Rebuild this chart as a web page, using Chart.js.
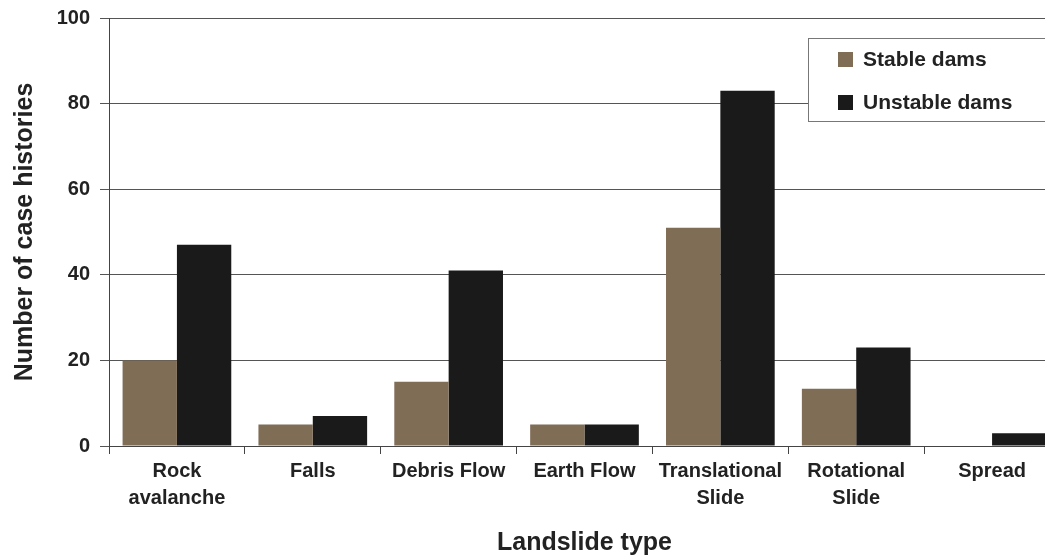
<!DOCTYPE html>
<html>
<head>
<meta charset="utf-8">
<script src="https://cdn.jsdelivr.net/npm/chart.js@4"></script>
<style>
  html, body { margin: 0; padding: 0; background: #fff; overflow: hidden; width: 1045px; height: 556px; }
  #wrap { position: relative; width: 1060px; height: 556px; }
</style>
</head>
<body>
<div id="wrap"><canvas id="c" width="1060" height="556"></canvas></div>
<script>
const categories = [["Rock", "avalanche"], "Falls", "Debris Flow", "Earth Flow", ["Translational", "Slide"], ["Rotational", "Slide"], "Spread"];
const stableDams = [20, 5, 15, 5, 51, 13.4, 0];
const unstableDams = [47, 7, 41, 5, 83, 23, 3];
const yTicks = [0, 20, 40, 60, 80, 100];
const seriesLabels = ["Stable dams", "Unstable dams"];
const seriesColors = ["#7f6d56", "#1b1a1a"];

const FONT = "'Liberation Sans', Arial, sans-serif";
const TEXT = '#222';

const boxLegend = {
  id: 'boxLegend',
  afterDraw(chart) {
    const ctx = chart.ctx;
    const ca = chart.chartArea;
    const x0 = 808, y0 = 38, w = ca.right - 808 - 2, h = 83;
    ctx.save();
    ctx.fillStyle = '#fff';
    ctx.fillRect(x0, y0, w, h);
    ctx.strokeStyle = '#777';
    ctx.lineWidth = 1;
    ctx.strokeRect(x0 + 0.5, y0 + 0.5, w, h);
    ctx.font = "bold 21px " + FONT;
    ctx.textBaseline = 'middle';
    chart.data.datasets.forEach((ds, i) => {
      const cy = 59 + i * 43;
      ctx.fillStyle = ds.backgroundColor;
      ctx.fillRect(838, cy - 7, 15, 15);
      ctx.fillStyle = TEXT;
      ctx.fillText(ds.label, 863, cy + 1);
    });
    ctx.restore();
  }
};

new Chart(document.getElementById('c'), {
  type: 'bar',
  data: {
    labels: categories,
    datasets: [
      { label: seriesLabels[0], data: stableDams, backgroundColor: seriesColors[0], barPercentage: 1.0, categoryPercentage: 0.8 },
      { label: seriesLabels[1], data: unstableDams, backgroundColor: seriesColors[1], barPercentage: 1.0, categoryPercentage: 0.8 }
    ]
  },
  options: {
    responsive: false,
    animation: false,
    layout: { padding: { top: 18, right: 0, left: 0, bottom: 0 } },
    plugins: { legend: { display: false }, tooltip: { enabled: false } },
    scales: {
      x: {
        offset: true,
        grid: { display: true, drawOnChartArea: false, offset: true, color: '#444', tickLength: 8, lineWidth: 1 },
        border: { display: true, color: '#444', width: 1 },
        ticks: { color: TEXT, font: { family: FONT, size: 20, weight: 'bold', lineHeight: 1.35 }, padding: 4, maxRotation: 0, autoSkip: false },
        title: { display: true, text: 'Landslide type', color: TEXT, font: { family: FONT, size: 25, weight: 'bold', lineHeight: 1.0 }, padding: { top: 10, bottom: 0 } },
        afterFit(s) { s.height = 110; }
      },
      y: {
        min: 0, max: 100,
        afterBuildTicks(s) { s.ticks = yTicks.map(v => ({ value: v })); },
        grid: { color: '#555', tickLength: 9, lineWidth: 1 },
        border: { display: true, color: '#444', width: 1 },
        ticks: { color: TEXT, font: { family: FONT, size: 20, weight: 'bold' }, padding: 10 },
        title: { display: true, text: 'Number of case histories', color: TEXT, font: { family: FONT, size: 25, weight: 'bold', lineHeight: 1.2 }, padding: { top: 10, bottom: 0 } },
        afterFit(s) { s.width = 109; s.paddingTop = 0; s.paddingBottom = 0; }
      }
    }
  },
  plugins: [boxLegend]
});
</script>
</body>
</html>
